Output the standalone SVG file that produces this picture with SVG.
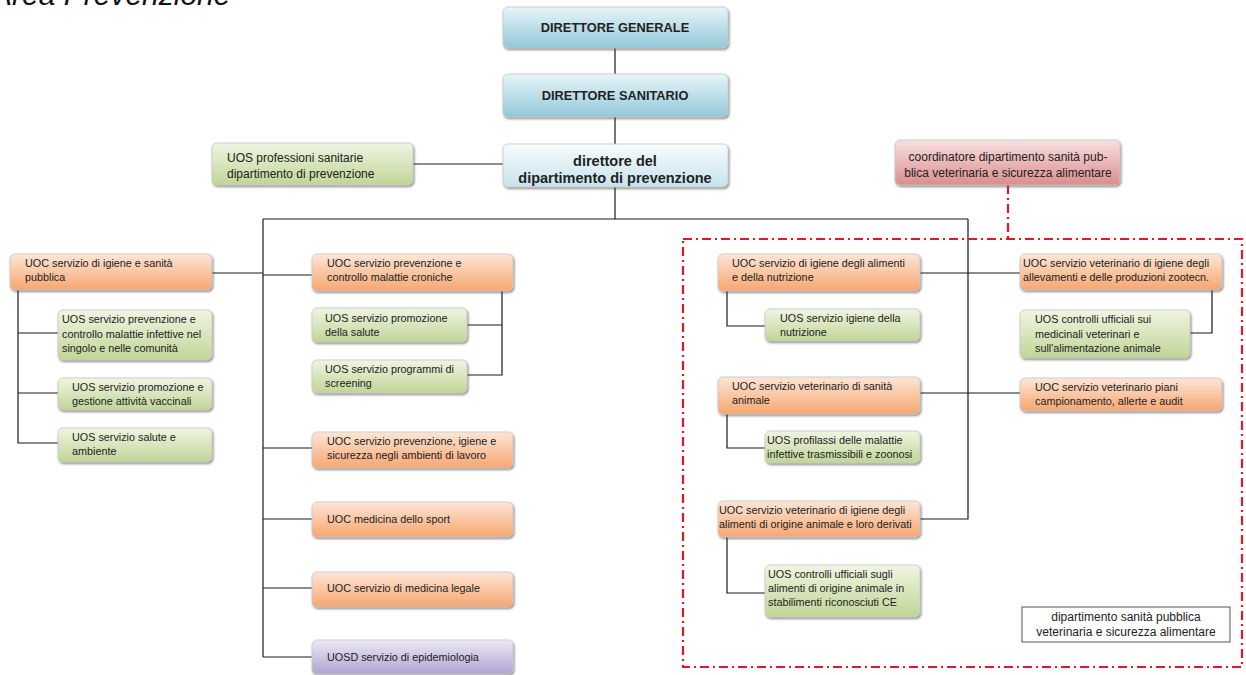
<svg xmlns="http://www.w3.org/2000/svg" width="1246" height="675" viewBox="0 0 1246 675">
<style>
  text { font-family: "Liberation Sans", Arial, sans-serif; fill: #222; }
  .t { font-size: 10.8px; }
  .m { font-size: 12px; }
  .h { font-size: 12.8px; font-weight: bold; text-anchor: middle; }
  .hd { font-size: 14.5px; font-weight: bold; text-anchor: middle; }
  .c { text-anchor: middle; }
  .title { font-size: 30px; font-style: italic; fill: #111; }
  .box { stroke: #c8c8c8; stroke-width: 0.8; filter: url(#sh); }
  .blue { fill: url(#gBlue); }
  .lblue { fill: url(#gLBlue); }
  .or { fill: url(#gOr); }
  .gr { fill: url(#gGr); }
  .pu { fill: url(#gPu); }
  .rd { fill: url(#gRd); }
  .ln { stroke: #1a1a1a; stroke-width: 1.2; fill: none; }
  .red { stroke: #e0182a; stroke-width: 2.2; fill: none; stroke-dasharray: 9 4 2 4; }
</style>
<defs>
  <linearGradient id="gBlue" x1="0" y1="0" x2="0" y2="1">
    <stop offset="0" stop-color="#e8f5f9"/><stop offset="1" stop-color="#92c8d8"/>
  </linearGradient>
  <linearGradient id="gLBlue" x1="0" y1="0" x2="0" y2="1">
    <stop offset="0" stop-color="#f8fcfd"/><stop offset="1" stop-color="#c6e3ed"/>
  </linearGradient>
  <linearGradient id="gOr" x1="0" y1="0" x2="0" y2="1">
    <stop offset="0" stop-color="#fde6d6"/><stop offset="1" stop-color="#f6a670"/>
  </linearGradient>
  <linearGradient id="gGr" x1="0" y1="0" x2="0" y2="1">
    <stop offset="0" stop-color="#f0f5e2"/><stop offset="1" stop-color="#c0d597"/>
  </linearGradient>
  <linearGradient id="gPu" x1="0" y1="0" x2="0" y2="1">
    <stop offset="0" stop-color="#ece8f5"/><stop offset="1" stop-color="#b1a4d2"/>
  </linearGradient>
  <linearGradient id="gRd" x1="0" y1="0" x2="0" y2="1">
    <stop offset="0" stop-color="#f9e0e0"/><stop offset="1" stop-color="#d98e8d"/>
  </linearGradient>
  <filter id="sh" x="-5%" y="-10%" width="112%" height="130%">
    <feDropShadow dx="1" dy="1.5" stdDeviation="0.8" flood-color="#333" flood-opacity="0.6"/>
  </filter>
</defs>

<text class="title" x="-8" y="5">Area Prevenzione</text>

<g id="connectors">
  <line class="ln" x1="615" y1="48" x2="615" y2="74"/>
  <line class="ln" x1="615" y1="117" x2="615" y2="144"/>
  <line class="ln" x1="413" y1="164" x2="503" y2="164"/>
  <line class="ln" x1="615" y1="187" x2="615" y2="219"/>
  <line class="ln" x1="263" y1="219" x2="968" y2="219"/>
  <line class="ln" x1="263" y1="219" x2="263" y2="657"/>
  <line class="ln" x1="212" y1="273" x2="263" y2="273"/>
  <polyline class="ln" points="18,290 18,443 58,443"/>
  <line class="ln" x1="18" y1="333" x2="58" y2="333"/>
  <line class="ln" x1="18" y1="393" x2="58" y2="393"/>
  <line class="ln" x1="263" y1="275" x2="312" y2="275"/>
  <polyline class="ln" points="502,290 502,375 467,375"/>
  <line class="ln" x1="467" y1="325" x2="502" y2="325"/>
  <line class="ln" x1="263" y1="448" x2="312" y2="448"/>
  <line class="ln" x1="263" y1="519" x2="312" y2="519"/>
  <line class="ln" x1="263" y1="588" x2="312" y2="588"/>
  <line class="ln" x1="263" y1="657" x2="312" y2="657"/>
  <polyline class="ln" points="968,219 968,519 920,519"/>
  <line class="ln" x1="920" y1="273" x2="1020" y2="273"/>
  <line class="ln" x1="920" y1="393" x2="1020" y2="393"/>
  <polyline class="ln" points="727,291 727,326 765,326"/>
  <polyline class="ln" points="727,414 727,448 765,448"/>
  <polyline class="ln" points="727,537 727,593 765,593"/>
  <polyline class="ln" points="1212,290 1212,333 1190,333"/>
  <line class="red" x1="1008" y1="185" x2="1008" y2="239"/>
  <rect class="red" x="683" y="239" width="559" height="428"/>
</g>

<g id="n-dg"><rect class="box blue" x="503" y="7" width="225" height="41" rx="5"/><text class="h" x="615" y="32">DIRETTORE GENERALE</text></g>
<g id="n-ds"><rect class="box blue" x="503" y="74" width="225" height="43" rx="5"/><text class="h" x="615" y="100">DIRETTORE SANITARIO</text></g>
<g id="n-dp"><rect class="box lblue" x="503" y="144" width="225" height="43" rx="5"/><text class="hd" x="615" y="166">direttore  del</text><text class="hd" x="615" y="183">dipartimento di prevenzione</text></g>
<g id="n-prof"><rect class="box gr" x="212" y="143" width="201" height="42" rx="5"/><text class="m" x="227" y="162">UOS professioni sanitarie</text><text class="m" x="227" y="178">dipartimento di prevenzione</text></g>
<g id="n-coord"><rect class="box rd" x="895" y="140" width="225" height="45" rx="5"/><text class="m c" x="1008" y="161">coordinatore dipartimento sanità pub-</text><text class="m c" x="1008" y="177">blica veterinaria e sicurezza alimentare</text></g>

<g id="n-isp"><rect class="box or" x="10" y="254" width="202" height="36" rx="5"/><text class="t" x="25" y="267">UOC servizio di igiene e sanità</text><text class="t" x="25" y="281">pubblica</text></g>
<g id="n-inf"><rect class="box gr" x="58" y="310" width="154" height="50" rx="5"/><text class="t" x="62" y="323">UOS servizio prevenzione e</text><text class="t" x="62" y="337.5">controllo malattie infettive nel</text><text class="t" x="62" y="352">singolo e nelle comunità</text></g>
<g id="n-vac"><rect class="box gr" x="58" y="378" width="154" height="32" rx="5"/><text class="t" x="72" y="391">UOS servizio promozione e</text><text class="t" x="72" y="405">gestione attività vaccinali</text></g>
<g id="n-amb"><rect class="box gr" x="58" y="428" width="154" height="34" rx="5"/><text class="t" x="72" y="441">UOS servizio salute e</text><text class="t" x="72" y="455">ambiente</text></g>

<g id="n-cron"><rect class="box or" x="312" y="254" width="201" height="37" rx="5"/><text class="t" x="327" y="267">UOC servizio prevenzione e</text><text class="t" x="327" y="281">controllo malattie croniche</text></g>
<g id="n-prom"><rect class="box gr" x="312" y="308" width="155" height="34" rx="5"/><text class="t" x="325" y="322">UOS servizio promozione</text><text class="t" x="325" y="336">della salute</text></g>
<g id="n-scr"><rect class="box gr" x="312" y="360" width="155" height="33" rx="5"/><text class="t" x="325" y="373">UOS servizio programmi di</text><text class="t" x="325" y="387">screening</text></g>
<g id="n-lav"><rect class="box or" x="312" y="432" width="201" height="36" rx="5"/><text class="t" x="327" y="445">UOC servizio prevenzione, igiene e</text><text class="t" x="327" y="459">sicurezza negli ambienti di lavoro</text></g>
<g id="n-sport"><rect class="box or" x="312" y="502" width="201" height="35" rx="5"/><text class="t" x="327" y="523">UOC medicina dello sport</text></g>
<g id="n-leg"><rect class="box or" x="312" y="572" width="201" height="35" rx="5"/><text class="t" x="327" y="592">UOC servizio di medicina legale</text></g>
<g id="n-epi"><rect class="box pu" x="312" y="640" width="201" height="34" rx="5"/><text class="t" x="327" y="661">UOSD servizio di epidemiologia</text></g>

<g id="n-ian"><rect class="box or" x="718" y="254" width="202" height="37" rx="5"/><text class="t" x="732" y="267">UOC servizio di igiene degli alimenti</text><text class="t" x="732" y="281">e della nutrizione</text></g>
<g id="n-nut"><rect class="box gr" x="765" y="309" width="155" height="32" rx="5"/><text class="t" x="780" y="322">UOS servizio igiene della</text><text class="t" x="780" y="336">nutrizione</text></g>
<g id="n-sa"><rect class="box or" x="718" y="377" width="202" height="37" rx="5"/><text class="t" x="732" y="390">UOC servizio veterinario di sanità</text><text class="t" x="732" y="404">animale</text></g>
<g id="n-prof2"><rect class="box gr" x="765" y="431" width="155" height="32" rx="5"/><text class="t" x="767" y="444">UOS profilassi delle malattie</text><text class="t" x="767" y="458">infettive trasmissibili e zoonosi</text></g>
<g id="n-ioa"><rect class="box or" x="718" y="501" width="202" height="36" rx="5"/><text class="t" x="719" y="514">UOC servizio veterinario di igiene degli</text><text class="t" x="719" y="528">alimenti di origine animale e loro derivati</text></g>
<g id="n-ce"><rect class="box gr" x="765" y="565" width="155" height="52" rx="5"/><text class="t" x="768" y="578">UOS controlli ufficiali sugli</text><text class="t" x="768" y="592">alimenti di origine animale in</text><text class="t" x="768" y="606">stabilimenti riconosciuti CE</text></g>
<g id="n-all"><rect class="box or" x="1020" y="254" width="202" height="36" rx="5"/><text class="t" x="1023" y="267">UOC servizio veterinario di igiene degli</text><text class="t" x="1023" y="281">allevamenti e delle produzioni zootecn.</text></g>
<g id="n-med"><rect class="box gr" x="1020" y="310" width="170" height="48" rx="5"/><text class="t" x="1035" y="323">UOS controlli ufficiali sui</text><text class="t" x="1035" y="338">medicinali veterinari e</text><text class="t" x="1035" y="352">sull'alimentazione animale</text></g>
<g id="n-pia"><rect class="box or" x="1020" y="378" width="202" height="33" rx="5"/><text class="t" x="1035" y="391">UOC servizio veterinario piani</text><text class="t" x="1035" y="405">campionamento, allerte e audit</text></g>
<g id="n-dsp"><rect x="1022" y="607" width="208" height="35" fill="#fff" stroke="#555" stroke-width="1"/><text class="m c" x="1126" y="621">dipartimento sanità pubblica</text><text class="m c" x="1126" y="636">veterinaria e sicurezza alimentare</text></g>
</svg>
